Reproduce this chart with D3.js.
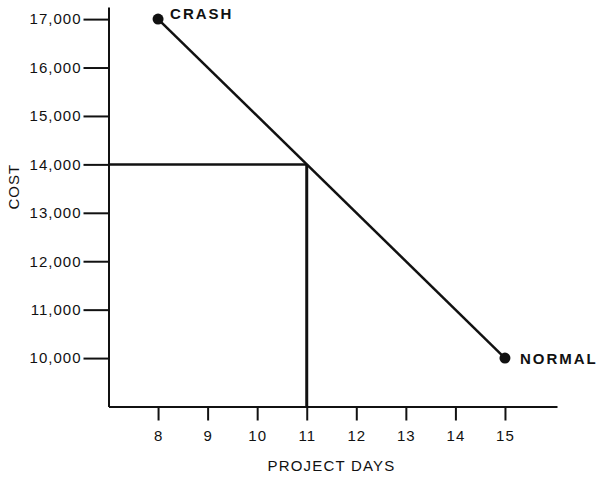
<!DOCTYPE html>
<html>
<head>
<meta charset="utf-8">
<script src="https://cdn.jsdelivr.net/npm/d3@7"></script>
<style>
  body { margin: 0; background: #fff; }
  text { font-family: "Liberation Sans", Arial, sans-serif; fill: #111; }
</style>
</head>
<body>
<div id="chart"></div>
<script>
const dayTicks = [8, 9, 10, 11, 12, 13, 14, 15]
const costTicks = [10000, 11000, 12000, 13000, 14000, 15000, 16000, 17000]
const endPoints = [
  {day: 8, cost: 17000, label: "CRASH"},
  {day: 15, cost: 10000, label: "NORMAL"}
]
const chosen = {day: 11, cost: 14000}

const width = 597
const height = 478
const x = d3.scaleLinear().domain([7, 16.05]).range([108.5, 557])
const y = d3.scaleLinear().domain([9000, 17250]).range([406.5, 7])

const svg = d3.select("#chart").append("svg")
  .attr("width", width)
  .attr("height", height)
  .attr("viewBox", [0, 0, width, height])

const ink = "#111"

// x axis
svg.append("g")
  .attr("transform", `translate(0,${y(9000)})`)
  .call(d3.axisBottom(x).tickValues(dayTicks).tickSize(14).tickPadding(10).tickSizeOuter(0))
  .call(g => g.select(".domain").attr("stroke", ink).attr("stroke-width", 2))
  .call(g => g.selectAll(".tick line").attr("stroke", ink).attr("stroke-width", 2))
  .call(g => g.selectAll(".tick text").attr("font-size", 15).attr("letter-spacing", 1).attr("fill", ink))

// y axis
svg.append("g")
  .attr("transform", `translate(${x(7)},0)`)
  .call(d3.axisLeft(y).tickValues(costTicks).tickSize(25).tickPadding(2)
    .tickFormat(d3.format(",")).tickSizeOuter(0))
  .call(g => g.select(".domain").attr("stroke", ink).attr("stroke-width", 2))
  .call(g => g.selectAll(".tick line").attr("stroke", ink).attr("stroke-width", 2))
  .call(g => g.selectAll(".tick text").attr("font-size", 15).attr("letter-spacing", 1).attr("fill", ink))

// axis titles
svg.append("text")
  .attr("x", x(11.5))
  .attr("y", 471)
  .attr("text-anchor", "middle")
  .attr("font-size", 15)
  .attr("letter-spacing", 1.2)
  .text("PROJECT DAYS")

svg.append("text")
  .attr("transform", `translate(19,${y(13540)}) rotate(-90)`)
  .attr("text-anchor", "middle")
  .attr("font-size", 15)
  .attr("letter-spacing", 1)
  .text("COST")

// guide lines to the chosen point
svg.append("path")
  .attr("fill", "none")
  .attr("stroke", ink)
  .attr("stroke-width", 2.5)
  .attr("d", `M${x(7)},${y(chosen.cost)}H${x(chosen.day)}`)

svg.append("path")
  .attr("fill", "none")
  .attr("stroke", ink)
  .attr("stroke-width", 3)
  .attr("d", `M${x(chosen.day)},${y(chosen.cost)}V${y(9000)}`)

// cost line
svg.append("path")
  .datum(endPoints)
  .attr("fill", "none")
  .attr("stroke", ink)
  .attr("stroke-width", 2.5)
  .attr("d", d3.line().x(d => x(d.day)).y(d => y(d.cost)))

svg.append("g")
  .selectAll("circle")
  .data(endPoints)
  .join("circle")
  .attr("cx", d => x(d.day))
  .attr("cy", d => y(d.cost))
  .attr("r", 5.5)
  .attr("fill", ink)

svg.append("g")
  .selectAll("text")
  .data(endPoints)
  .join("text")
  .attr("x", d => x(d.day) + (d.label === "CRASH" ? 12 : 15))
  .attr("y", d => y(d.cost) + (d.label === "CRASH" ? 0 : 5.5))
  .attr("font-size", 15)
  .attr("font-weight", "bold")
  .attr("letter-spacing", 2)
  .text(d => d.label)
</script>
</body>
</html>
